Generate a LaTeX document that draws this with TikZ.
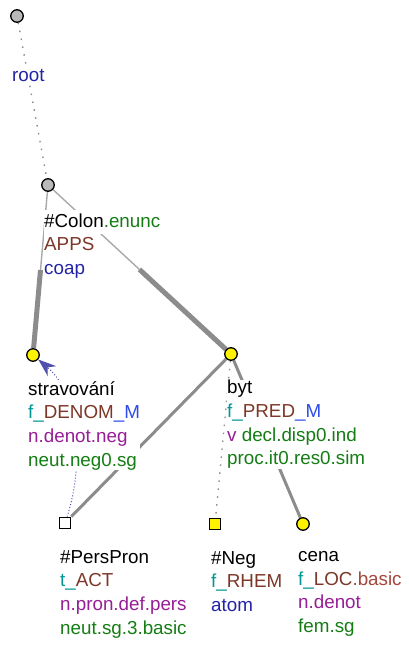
\documentclass[tikz,border=0pt]{standalone}
\usepackage{fontspec}
\setmainfont{Liberation Sans}
\usetikzlibrary{positioning, arrows.meta, calc, backgrounds}
\usepackage{xcolor}

\definecolor{tgreen}{RGB}{20,125,20}
\definecolor{tbrown}{RGB}{125,55,40}
\definecolor{tbasic}{RGB}{165,70,60}
\definecolor{tblue}{RGB}{35,35,165}
\definecolor{tmblue}{RGB}{45,75,235}
\definecolor{tteal}{RGB}{0,150,150}
\definecolor{tpurple}{RGB}{150,30,150}
\definecolor{tedge}{RGB}{140,140,140}
\definecolor{tcoref}{RGB}{80,80,175}

% bily podklad jen pod jednim radkem popisku
\setlength{\fboxsep}{0pt}
\newcommand{\wline}[1]{\colorbox{white}{\rule[-6.6pt]{0pt}{23.5pt}#1}}

\begin{document}
\begin{tikzpicture}[
    x=1pt, y=-1pt,
    every node/.style={font=\fontsize{18.8}{23.7}\selectfont},
    dot/.style={circle, draw=black, line width=1.3pt, minimum size=12.5pt, inner sep=0pt},
    graydot/.style={dot, fill=gray!55},
    ylwdot/.style={dot, fill=yellow},
    sqbox/.style={rectangle, draw=black, line width=1.3pt, minimum size=11.5pt, inner sep=0pt},
    lbl/.style={anchor=north west, align=left, fill=white, inner sep=0pt,
                execute at begin node={\rule{0pt}{16pt}}},
    hidden/.style={tedge, line width=1.4pt, dash pattern=on 1.5pt off 6.5pt},
    thinedge/.style={tedge!75, line width=1.4pt},
    thickedge/.style={tedge, line width=5pt},
    edge/.style={tedge, line width=3pt},
    coref/.style={tcoref, line width=1pt, dash pattern=on 1pt off 2pt,
                  -{Stealth[length=18pt, width=13pt, fill=tcoref]}}]
  \useasboundingbox (0,0) rectangle (408,648);
  % --- uzly stromu ---
  \node[graydot] (root)  at (17,16)   {};
  \node[graydot] (colon) at (48,185)  {};
  \node[ylwdot]  (strav) at (33,355)  {};
  \node[ylwdot]  (byt)   at (231,354) {};
  \node[sqbox, fill=white]  (perspron) at (65,523)  {};
  \node[sqbox, fill=yellow] (neg)      at (215,524) {};
  \node[ylwdot]  (cena)  at (303,524) {};

  % --- popisky ---
  \node[lbl] (root-l) at ($(root)+(-5,49)$) {\color{tblue}root};
  \node[lbl, fill=none] (colon-l) at ($(colon)+(-4,25)$)
        {\wline{\#Colon{\color{tgreen}.enunc}}\\\wline{\color{tbrown}APPS}\\
         \wline{\color{tblue}coap}};
  \node[lbl] (strav-l) at ($(strav)+(-5,26)$)
        {stravování\\{\color{tteal}f\_}{\color{tbrown}DENOM}{\color{tmblue}\_M}\\
         {\color{tpurple}n.denot.neg}\\{\color{tgreen}neut.neg0.sg}};
  \node[lbl] (byt-l) at ($(byt)+(-4,26)$)
        {byt\\{\color{tteal}f\_}{\color{tbrown}PRED}{\color{tmblue}\_M}\\
         {\color{tpurple}v} {\color{tgreen}decl.disp0.ind}\\{\color{tgreen}proc.it0.res0.sim}};
  \node[lbl] (perspron-l) at ($(perspron)+(-5,27)$)
        {\#PersPron\\{\color{tteal}t\_}{\color{tbrown}ACT}\\
         {\color{tpurple}n.pron.def.pers}\\{\color{tgreen}neut.sg.3.basic}};
  \node[lbl] (neg-l) at ($(neg)+(-4,27)$)
        {\#Neg\\{\color{tteal}f\_}{\color{tbrown}RHEM}\\{\color{tblue}atom}};
  \node[lbl] (cena-l) at ($(cena)+(-5,27)$)
        {cena\\{\color{tteal}f\_}{\color{tbrown}LOC}{\color{tbasic}.basic}\\
         {\color{tpurple}n.denot}\\{\color{tgreen}fem.sg}};

  % --- hrany (pod popisky) ---
  \begin{pgfonlayer}{background}
    \coordinate (m-strav) at ($(colon)!0.5!(strav)$);
    \coordinate (m-byt)   at ($(colon)!0.5!(byt)$);
    \draw[hidden] (root) -- (colon);
    \draw[thinedge] (colon) -- (m-strav);
    \draw[thickedge] (m-strav) -- (strav);
    \draw[thinedge] (colon) -- (m-byt);
    \draw[thickedge] (m-byt) -- (byt);
    \draw[edge] (byt) -- (perspron);
    \draw[hidden] (byt) -- (neg);
    \draw[edge] (byt) -- (cena);
    % koreference
    \draw[coref] (perspron) .. controls (84,465) and (80,395) .. (strav);
  \end{pgfonlayer}
\end{tikzpicture}
\end{document}
